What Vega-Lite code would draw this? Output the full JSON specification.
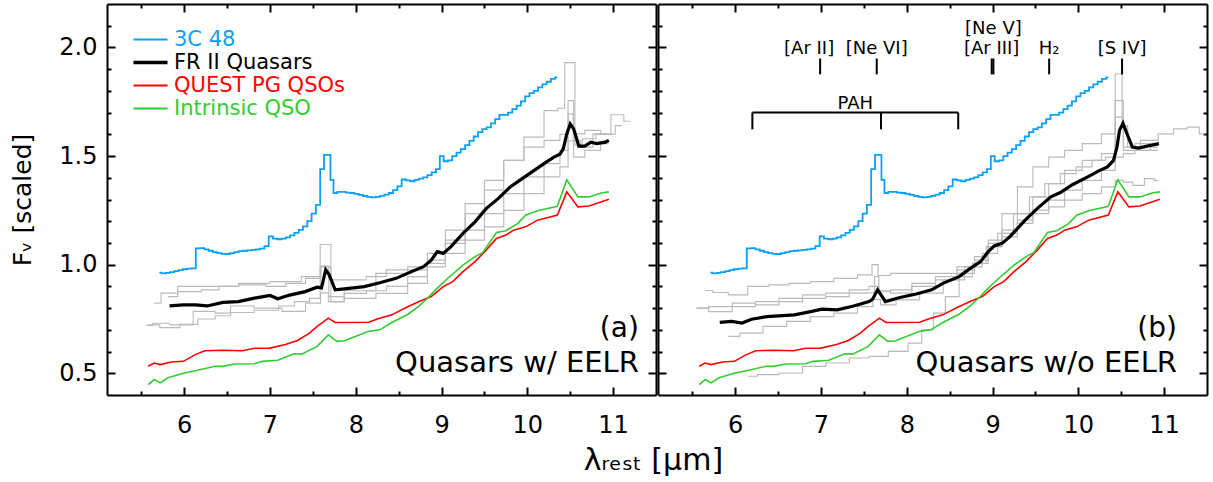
{
  "$schema": "https://vega.github.io/schema/vega-lite/v6.json",
  "background": "white",
  "padding": {"left": 10, "top": 3, "right": 3, "bottom": 4},
  "spacing": 0,
  "config": {
    "view": {"stroke": null},
    "axis": {"domainColor": "#000", "domainWidth": 2, "tickColor": "#000", "tickWidth": 2, "grid": false,
      "labelFont": "DejaVu Sans", "labelFontSize": 24, "labelColor": "#000", "titleFont": "DejaVu Sans",
      "titleFontWeight": "normal", "titleColor": "#000", "labelOverlap": false, "labelFlush": false, "labelBound": false},
    "text": {"font": "DejaVu Sans", "color": "#000"}
  },
  "title": {"text": "λᵣₑₛₜ [μm]", "orient": "bottom", "anchor": "middle", "fontSize": 30, "fontWeight": "normal", "font": "DejaVu Sans", "color": "#000", "offset": 5, "dx": 44},
  "resolve": {"scale": {"color": "shared"}},
  "datasets": {
    "gray": [
      {"panel":"a","id":"a1","x":5.58,"y":0.723},{"panel":"a","id":"a1","x":5.85,"y":0.71},{"panel":"a","id":"a1","x":6.05,"y":0.725},{"panel":"a","id":"a1","x":6.27,"y":0.75},{"panel":"a","id":"a1","x":6.45,"y":0.765},{"panel":"a","id":"a1","x":6.63,"y":0.78},{"panel":"a","id":"a1","x":7.0,"y":0.79},{"panel":"a","id":"a1","x":7.2,"y":0.81},{"panel":"a","id":"a1","x":7.37,"y":0.83},{"panel":"a","id":"a1","x":7.55,"y":0.845},{"panel":"a","id":"a1","x":7.62,"y":1.093},{"panel":"a","id":"a1","x":7.69,"y":1.093},{"panel":"a","id":"a1","x":7.73,"y":0.83},{"panel":"a","id":"a1","x":8.0,"y":0.868},{"panel":"a","id":"a1","x":8.25,"y":0.88},{"panel":"a","id":"a1","x":8.47,"y":0.9},{"panel":"a","id":"a1","x":8.74,"y":0.945},{"panel":"a","id":"a1","x":8.93,"y":1.006},{"panel":"a","id":"a1","x":9.16,"y":1.113},{"panel":"a","id":"a1","x":9.39,"y":1.235},{"panel":"a","id":"a1","x":9.61,"y":1.343},{"panel":"a","id":"a1","x":9.84,"y":1.48},{"panel":"a","id":"a1","x":10.08,"y":1.587},{"panel":"a","id":"a1","x":10.31,"y":1.709},{"panel":"a","id":"a1","x":10.4,"y":1.72},{"panel":"a","id":"a1","x":10.47,"y":1.93},{"panel":"a","id":"a1","x":10.53,"y":1.93},{"panel":"a","id":"a1","x":10.58,"y":1.55},{"panel":"a","id":"a1","x":10.7,"y":1.58},{"panel":"a","id":"a1","x":10.9,"y":1.6},{"panel":"a","id":"a1","x":11.05,"y":1.69},{"panel":"a","id":"a1","x":11.2,"y":1.66},
      {"panel":"a","id":"a2","x":5.65,"y":0.823},{"panel":"a","id":"a2","x":5.81,"y":0.869},{"panel":"a","id":"a2","x":6.04,"y":0.876},{"panel":"a","id":"a2","x":6.36,"y":0.884},{"panel":"a","id":"a2","x":6.45,"y":0.9},{"panel":"a","id":"a2","x":6.82,"y":0.907},{"panel":"a","id":"a2","x":7.09,"y":0.9},{"panel":"a","id":"a2","x":7.28,"y":0.914},{"panel":"a","id":"a2","x":7.55,"y":0.937},{"panel":"a","id":"a2","x":7.62,"y":0.99},{"panel":"a","id":"a2","x":7.69,"y":0.99},{"panel":"a","id":"a2","x":7.73,"y":0.93},{"panel":"a","id":"a2","x":8.0,"y":0.93},{"panel":"a","id":"a2","x":8.24,"y":0.945},{"panel":"a","id":"a2","x":8.47,"y":0.976},{"panel":"a","id":"a2","x":8.74,"y":0.99},{"panel":"a","id":"a2","x":8.93,"y":1.021},{"panel":"a","id":"a2","x":9.16,"y":1.098},{"panel":"a","id":"a2","x":9.39,"y":1.159},{"panel":"a","id":"a2","x":9.61,"y":1.235},{"panel":"a","id":"a2","x":9.84,"y":1.327},{"panel":"a","id":"a2","x":10.08,"y":1.404},{"panel":"a","id":"a2","x":10.31,"y":1.465},{"panel":"a","id":"a2","x":10.45,"y":1.526},{"panel":"a","id":"a2","x":10.5,"y":1.694},{"panel":"a","id":"a2","x":10.57,"y":1.572},{"panel":"a","id":"a2","x":10.67,"y":1.541},{"panel":"a","id":"a2","x":10.86,"y":1.602},{"panel":"a","id":"a2","x":11.0,"y":1.6},
      {"panel":"a","id":"a3","x":5.55,"y":0.72},{"panel":"a","id":"a3","x":5.72,"y":0.73},{"panel":"a","id":"a3","x":5.94,"y":0.723},{"panel":"a","id":"a3","x":6.27,"y":0.785},{"panel":"a","id":"a3","x":6.45,"y":0.777},{"panel":"a","id":"a3","x":6.63,"y":0.81},{"panel":"a","id":"a3","x":7.0,"y":0.8},{"panel":"a","id":"a3","x":7.28,"y":0.785},{"panel":"a","id":"a3","x":7.55,"y":0.823},{"panel":"a","id":"a3","x":7.63,"y":0.87},{"panel":"a","id":"a3","x":7.73,"y":0.83},{"panel":"a","id":"a3","x":8.0,"y":0.845},{"panel":"a","id":"a3","x":8.47,"y":0.868},{"panel":"a","id":"a3","x":8.74,"y":0.914},{"panel":"a","id":"a3","x":8.93,"y":0.99},{"panel":"a","id":"a3","x":9.16,"y":1.052},{"panel":"a","id":"a3","x":9.39,"y":1.113},{"panel":"a","id":"a3","x":9.61,"y":1.174},{"panel":"a","id":"a3","x":9.84,"y":1.25},{"panel":"a","id":"a3","x":10.08,"y":1.327},{"panel":"a","id":"a3","x":10.31,"y":1.404},{"panel":"a","id":"a3","x":10.45,"y":1.45},{"panel":"a","id":"a3","x":10.5,"y":1.57},{"panel":"a","id":"a3","x":10.58,"y":1.495},{"panel":"a","id":"a3","x":10.76,"y":1.526},{"panel":"a","id":"a3","x":10.95,"y":1.557},
      {"panel":"a","id":"a4","x":5.81,"y":0.853},{"panel":"a","id":"a4","x":6.04,"y":0.9},{"panel":"a","id":"a4","x":6.45,"y":0.9},{"panel":"a","id":"a4","x":6.82,"y":0.914},{"panel":"a","id":"a4","x":7.18,"y":0.922},{"panel":"a","id":"a4","x":7.55,"y":0.945},{"panel":"a","id":"a4","x":7.64,"y":0.994},{"panel":"a","id":"a4","x":7.73,"y":0.853},{"panel":"a","id":"a4","x":8.0,"y":0.88},{"panel":"a","id":"a4","x":8.47,"y":0.96},{"panel":"a","id":"a4","x":8.74,"y":0.976},{"panel":"a","id":"a4","x":8.93,"y":1.052},{"panel":"a","id":"a4","x":9.16,"y":1.159},{"panel":"a","id":"a4","x":9.39,"y":1.281},{"panel":"a","id":"a4","x":9.61,"y":1.388},{"panel":"a","id":"a4","x":9.84,"y":1.48},{"panel":"a","id":"a4","x":10.08,"y":1.541},{"panel":"a","id":"a4","x":10.31,"y":1.572},{"panel":"a","id":"a4","x":10.45,"y":1.6},{"panel":"a","id":"a4","x":10.5,"y":1.755},{"panel":"a","id":"a4","x":10.58,"y":1.602},{"panel":"a","id":"a4","x":10.76,"y":1.618},{"panel":"a","id":"a4","x":10.95,"y":1.6},{"panel":"a","id":"a4","x":11.1,"y":1.64},
      {"panel":"b","id":"b1","x":5.65,"y":0.881},{"panel":"b","id":"b1","x":5.83,"y":0.872},{"panel":"b","id":"b1","x":6.01,"y":0.861},{"panel":"b","id":"b1","x":6.28,"y":0.9},{"panel":"b","id":"b1","x":6.51,"y":0.907},{"panel":"b","id":"b1","x":6.74,"y":0.914},{"panel":"b","id":"b1","x":7.01,"y":0.922},{"panel":"b","id":"b1","x":7.29,"y":0.937},{"panel":"b","id":"b1","x":7.56,"y":0.953},{"panel":"b","id":"b1","x":7.63,"y":1.0},{"panel":"b","id":"b1","x":7.7,"y":0.95},{"panel":"b","id":"b1","x":7.92,"y":0.96},{"panel":"b","id":"b1","x":8.24,"y":0.96},{"panel":"b","id":"b1","x":8.47,"y":0.96},{"panel":"b","id":"b1","x":8.7,"y":0.976},{"panel":"b","id":"b1","x":8.88,"y":1.006},{"panel":"b","id":"b1","x":9.02,"y":1.098},{"panel":"b","id":"b1","x":9.2,"y":1.235},{"panel":"b","id":"b1","x":9.38,"y":1.358},{"panel":"b","id":"b1","x":9.56,"y":1.45},{"panel":"b","id":"b1","x":9.75,"y":1.495},{"panel":"b","id":"b1","x":9.93,"y":1.526},{"panel":"b","id":"b1","x":10.16,"y":1.557},{"panel":"b","id":"b1","x":10.38,"y":1.602},{"panel":"b","id":"b1","x":10.48,"y":1.878},{"panel":"b","id":"b1","x":10.54,"y":1.64},{"panel":"b","id":"b1","x":10.61,"y":1.541},{"panel":"b","id":"b1","x":10.84,"y":1.572},{"panel":"b","id":"b1","x":11.02,"y":1.602},{"panel":"b","id":"b1","x":11.2,"y":1.625},{"panel":"b","id":"b1","x":11.34,"y":1.633},{"panel":"b","id":"b1","x":11.48,"y":1.602},
      {"panel":"b","id":"b2","x":5.55,"y":0.8},{"panel":"b","id":"b2","x":5.83,"y":0.784},{"panel":"b","id":"b2","x":6.1,"y":0.807},{"panel":"b","id":"b2","x":6.37,"y":0.83},{"panel":"b","id":"b2","x":6.65,"y":0.83},{"panel":"b","id":"b2","x":6.92,"y":0.845},{"panel":"b","id":"b2","x":7.19,"y":0.853},{"panel":"b","id":"b2","x":7.47,"y":0.869},{"panel":"b","id":"b2","x":7.6,"y":0.87},{"panel":"b","id":"b2","x":7.65,"y":0.945},{"panel":"b","id":"b2","x":7.7,"y":0.88},{"panel":"b","id":"b2","x":7.92,"y":0.869},{"panel":"b","id":"b2","x":8.2,"y":0.9},{"panel":"b","id":"b2","x":8.47,"y":0.93},{"panel":"b","id":"b2","x":8.7,"y":0.96},{"panel":"b","id":"b2","x":8.88,"y":1.021},{"panel":"b","id":"b2","x":9.02,"y":1.113},{"panel":"b","id":"b2","x":9.2,"y":1.159},{"panel":"b","id":"b2","x":9.38,"y":1.235},{"panel":"b","id":"b2","x":9.56,"y":1.312},{"panel":"b","id":"b2","x":9.75,"y":1.373},{"panel":"b","id":"b2","x":9.93,"y":1.434},{"panel":"b","id":"b2","x":10.16,"y":1.48},{"panel":"b","id":"b2","x":10.38,"y":1.511},{"panel":"b","id":"b2","x":10.48,"y":1.755},{"panel":"b","id":"b2","x":10.57,"y":1.541},{"panel":"b","id":"b2","x":10.75,"y":1.557},{"panel":"b","id":"b2","x":10.93,"y":1.55},
      {"panel":"b","id":"b3","x":5.55,"y":0.8},{"panel":"b","id":"b3","x":5.83,"y":0.807},{"panel":"b","id":"b3","x":6.1,"y":0.823},{"panel":"b","id":"b3","x":6.37,"y":0.815},{"panel":"b","id":"b3","x":6.65,"y":0.845},{"panel":"b","id":"b3","x":6.92,"y":0.861},{"panel":"b","id":"b3","x":7.19,"y":0.869},{"panel":"b","id":"b3","x":7.47,"y":0.884},{"panel":"b","id":"b3","x":7.65,"y":0.9},{"panel":"b","id":"b3","x":7.7,"y":0.875},{"panel":"b","id":"b3","x":7.92,"y":0.884},{"panel":"b","id":"b3","x":8.2,"y":0.914},{"panel":"b","id":"b3","x":8.47,"y":0.945},{"panel":"b","id":"b3","x":8.7,"y":0.99},{"panel":"b","id":"b3","x":8.88,"y":1.037},{"panel":"b","id":"b3","x":9.02,"y":1.083},{"panel":"b","id":"b3","x":9.2,"y":1.128},{"panel":"b","id":"b3","x":9.38,"y":1.19},{"panel":"b","id":"b3","x":9.56,"y":1.251},{"panel":"b","id":"b3","x":9.75,"y":1.297},{"panel":"b","id":"b3","x":9.93,"y":1.343},{"panel":"b","id":"b3","x":10.16,"y":1.388},{"panel":"b","id":"b3","x":10.38,"y":1.434},{"panel":"b","id":"b3","x":10.48,"y":1.495},{"panel":"b","id":"b3","x":10.57,"y":1.511},{"panel":"b","id":"b3","x":10.75,"y":1.526},{"panel":"b","id":"b3","x":10.93,"y":1.526},
      {"panel":"b","id":"b4","x":6.15,"y":0.486},{"panel":"b","id":"b4","x":6.37,"y":0.494},{"panel":"b","id":"b4","x":6.65,"y":0.501},{"panel":"b","id":"b4","x":6.92,"y":0.532},{"panel":"b","id":"b4","x":7.19,"y":0.547},{"panel":"b","id":"b4","x":7.47,"y":0.57},{"panel":"b","id":"b4","x":7.65,"y":0.578},{"panel":"b","id":"b4","x":7.92,"y":0.601},{"panel":"b","id":"b4","x":8.11,"y":0.639},{"panel":"b","id":"b4","x":8.24,"y":0.7},{"panel":"b","id":"b4","x":8.38,"y":0.777},{"panel":"b","id":"b4","x":8.52,"y":0.853},{"panel":"b","id":"b4","x":8.7,"y":0.945},{"panel":"b","id":"b4","x":8.83,"y":1.006},{"panel":"b","id":"b4","x":9.02,"y":1.083},{"panel":"b","id":"b4","x":9.2,"y":1.144},{"panel":"b","id":"b4","x":9.38,"y":1.205},{"panel":"b","id":"b4","x":9.56,"y":1.235},{"panel":"b","id":"b4","x":9.75,"y":1.266},{"panel":"b","id":"b4","x":9.93,"y":1.297},{"panel":"b","id":"b4","x":10.16,"y":1.327},{"panel":"b","id":"b4","x":10.38,"y":1.358},{"panel":"b","id":"b4","x":10.48,"y":1.388},{"panel":"b","id":"b4","x":10.57,"y":1.38},{"panel":"b","id":"b4","x":10.7,"y":1.365},{"panel":"b","id":"b4","x":10.84,"y":1.396},{"panel":"b","id":"b4","x":10.93,"y":1.388},
      {"panel":"b","id":"b5","x":5.92,"y":0.67},{"panel":"b","id":"b5","x":6.19,"y":0.685},{"panel":"b","id":"b5","x":6.46,"y":0.716},{"panel":"b","id":"b5","x":6.74,"y":0.739},{"panel":"b","id":"b5","x":7.01,"y":0.761},{"panel":"b","id":"b5","x":7.29,"y":0.777},{"panel":"b","id":"b5","x":7.56,"y":0.807},{"panel":"b","id":"b5","x":7.65,"y":0.84},{"panel":"b","id":"b5","x":7.74,"y":0.815},{"panel":"b","id":"b5","x":8.01,"y":0.838},{"panel":"b","id":"b5","x":8.29,"y":0.869},{"panel":"b","id":"b5","x":8.56,"y":0.93},{"panel":"b","id":"b5","x":8.79,"y":0.99},{"panel":"b","id":"b5","x":8.97,"y":1.052},{"panel":"b","id":"b5","x":9.15,"y":1.144},{"panel":"b","id":"b5","x":9.34,"y":1.235},{"panel":"b","id":"b5","x":9.52,"y":1.312},{"panel":"b","id":"b5","x":9.7,"y":1.373},{"panel":"b","id":"b5","x":9.88,"y":1.419},{"panel":"b","id":"b5","x":10.07,"y":1.45},{"panel":"b","id":"b5","x":10.25,"y":1.48},{"panel":"b","id":"b5","x":10.38,"y":1.495},{"panel":"b","id":"b5","x":10.48,"y":1.679},{"panel":"b","id":"b5","x":10.57,"y":1.526},{"panel":"b","id":"b5","x":10.75,"y":1.526},{"panel":"b","id":"b5","x":10.93,"y":1.541}
    ],
    "spectra": [
      {"series":"3C 48","panel":"both","x":5.71,"y":0.963},{"series":"3C 48","panel":"both","x":5.76,"y":0.96},{"series":"3C 48","panel":"both","x":5.81,"y":0.962},{"series":"3C 48","panel":"both","x":5.86,"y":0.966},{"series":"3C 48","panel":"both","x":5.91,"y":0.97},{"series":"3C 48","panel":"both","x":5.96,"y":0.975},{"series":"3C 48","panel":"both","x":6.01,"y":0.979},{"series":"3C 48","panel":"both","x":6.06,"y":0.982},{"series":"3C 48","panel":"both","x":6.11,"y":0.983},{"series":"3C 48","panel":"both","x":6.16,"y":1.075},{"series":"3C 48","panel":"both","x":6.21,"y":1.076},{"series":"3C 48","panel":"both","x":6.26,"y":1.07},{"series":"3C 48","panel":"both","x":6.31,"y":1.064},{"series":"3C 48","panel":"both","x":6.36,"y":1.058},{"series":"3C 48","panel":"both","x":6.41,"y":1.053},{"series":"3C 48","panel":"both","x":6.46,"y":1.05},{"series":"3C 48","panel":"both","x":6.51,"y":1.049},{"series":"3C 48","panel":"both","x":6.56,"y":1.053},{"series":"3C 48","panel":"both","x":6.61,"y":1.058},{"series":"3C 48","panel":"both","x":6.66,"y":1.062},{"series":"3C 48","panel":"both","x":6.71,"y":1.064},{"series":"3C 48","panel":"both","x":6.76,"y":1.066},{"series":"3C 48","panel":"both","x":6.81,"y":1.068},{"series":"3C 48","panel":"both","x":6.86,"y":1.07},{"series":"3C 48","panel":"both","x":6.91,"y":1.074},{"series":"3C 48","panel":"both","x":6.96,"y":1.085},{"series":"3C 48","panel":"both","x":7.01,"y":1.13},{"series":"3C 48","panel":"both","x":7.06,"y":1.12},{"series":"3C 48","panel":"both","x":7.11,"y":1.117},{"series":"3C 48","panel":"both","x":7.16,"y":1.12},{"series":"3C 48","panel":"both","x":7.21,"y":1.126},{"series":"3C 48","panel":"both","x":7.26,"y":1.135},{"series":"3C 48","panel":"both","x":7.31,"y":1.146},{"series":"3C 48","panel":"both","x":7.36,"y":1.16},{"series":"3C 48","panel":"both","x":7.41,"y":1.176},{"series":"3C 48","panel":"both","x":7.46,"y":1.2},{"series":"3C 48","panel":"both","x":7.51,"y":1.235},{"series":"3C 48","panel":"both","x":7.56,"y":1.275},{"series":"3C 48","panel":"both","x":7.61,"y":1.44},{"series":"3C 48","panel":"both","x":7.65,"y":1.505},{"series":"3C 48","panel":"both","x":7.69,"y":1.505},{"series":"3C 48","panel":"both","x":7.72,"y":1.39},{"series":"3C 48","panel":"both","x":7.76,"y":1.33},{"series":"3C 48","panel":"both","x":7.81,"y":1.335},{"series":"3C 48","panel":"both","x":7.86,"y":1.335},{"series":"3C 48","panel":"both","x":7.91,"y":1.332},{"series":"3C 48","panel":"both","x":7.96,"y":1.33},{"series":"3C 48","panel":"both","x":8.01,"y":1.326},{"series":"3C 48","panel":"both","x":8.06,"y":1.321},{"series":"3C 48","panel":"both","x":8.11,"y":1.316},{"series":"3C 48","panel":"both","x":8.16,"y":1.312},{"series":"3C 48","panel":"both","x":8.21,"y":1.31},{"series":"3C 48","panel":"both","x":8.26,"y":1.312},{"series":"3C 48","panel":"both","x":8.31,"y":1.317},{"series":"3C 48","panel":"both","x":8.36,"y":1.322},{"series":"3C 48","panel":"both","x":8.41,"y":1.33},{"series":"3C 48","panel":"both","x":8.46,"y":1.343},{"series":"3C 48","panel":"both","x":8.51,"y":1.36},{"series":"3C 48","panel":"both","x":8.56,"y":1.392},{"series":"3C 48","panel":"both","x":8.61,"y":1.388},{"series":"3C 48","panel":"both","x":8.66,"y":1.384},{"series":"3C 48","panel":"both","x":8.71,"y":1.39},{"series":"3C 48","panel":"both","x":8.76,"y":1.396},{"series":"3C 48","panel":"both","x":8.81,"y":1.402},{"series":"3C 48","panel":"both","x":8.86,"y":1.412},{"series":"3C 48","panel":"both","x":8.91,"y":1.425},{"series":"3C 48","panel":"both","x":8.96,"y":1.44},{"series":"3C 48","panel":"both","x":9.0,"y":1.5},{"series":"3C 48","panel":"both","x":9.05,"y":1.476},{"series":"3C 48","panel":"both","x":9.1,"y":1.48},{"series":"3C 48","panel":"both","x":9.15,"y":1.5},{"series":"3C 48","panel":"both","x":9.2,"y":1.516},{"series":"3C 48","panel":"both","x":9.25,"y":1.532},{"series":"3C 48","panel":"both","x":9.3,"y":1.55},{"series":"3C 48","panel":"both","x":9.35,"y":1.57},{"series":"3C 48","panel":"both","x":9.4,"y":1.59},{"series":"3C 48","panel":"both","x":9.45,"y":1.61},{"series":"3C 48","panel":"both","x":9.5,"y":1.624},{"series":"3C 48","panel":"both","x":9.55,"y":1.632},{"series":"3C 48","panel":"both","x":9.6,"y":1.65},{"series":"3C 48","panel":"both","x":9.65,"y":1.67},{"series":"3C 48","panel":"both","x":9.7,"y":1.69},{"series":"3C 48","panel":"both","x":9.75,"y":1.69},{"series":"3C 48","panel":"both","x":9.8,"y":1.7},{"series":"3C 48","panel":"both","x":9.85,"y":1.716},{"series":"3C 48","panel":"both","x":9.9,"y":1.732},{"series":"3C 48","panel":"both","x":9.95,"y":1.752},{"series":"3C 48","panel":"both","x":10.0,"y":1.775},{"series":"3C 48","panel":"both","x":10.05,"y":1.79},{"series":"3C 48","panel":"both","x":10.1,"y":1.8},{"series":"3C 48","panel":"both","x":10.15,"y":1.816},{"series":"3C 48","panel":"both","x":10.2,"y":1.83},{"series":"3C 48","panel":"both","x":10.25,"y":1.842},{"series":"3C 48","panel":"both","x":10.3,"y":1.855},{"series":"3C 48","panel":"both","x":10.35,"y":1.862},
      {"series":"QUEST PG QSOs","panel":"both","x":5.58,"y":0.532},{"series":"QUEST PG QSOs","panel":"both","x":5.65,"y":0.547},{"series":"QUEST PG QSOs","panel":"both","x":5.72,"y":0.54},{"series":"QUEST PG QSOs","panel":"both","x":5.85,"y":0.552},{"series":"QUEST PG QSOs","panel":"both","x":5.99,"y":0.555},{"series":"QUEST PG QSOs","panel":"both","x":6.13,"y":0.586},{"series":"QUEST PG QSOs","panel":"both","x":6.24,"y":0.604},{"series":"QUEST PG QSOs","panel":"both","x":6.45,"y":0.606},{"series":"QUEST PG QSOs","panel":"both","x":6.68,"y":0.604},{"series":"QUEST PG QSOs","panel":"both","x":6.82,"y":0.615},{"series":"QUEST PG QSOs","panel":"both","x":7.0,"y":0.616},{"series":"QUEST PG QSOs","panel":"both","x":7.18,"y":0.632},{"series":"QUEST PG QSOs","panel":"both","x":7.32,"y":0.651},{"series":"QUEST PG QSOs","panel":"both","x":7.46,"y":0.685},{"series":"QUEST PG QSOs","panel":"both","x":7.55,"y":0.716},{"series":"QUEST PG QSOs","panel":"both","x":7.68,"y":0.754},{"series":"QUEST PG QSOs","panel":"both","x":7.76,"y":0.734},{"series":"QUEST PG QSOs","panel":"both","x":7.87,"y":0.734},{"series":"QUEST PG QSOs","panel":"both","x":8.15,"y":0.735},{"series":"QUEST PG QSOs","panel":"both","x":8.26,"y":0.751},{"series":"QUEST PG QSOs","panel":"both","x":8.42,"y":0.769},{"series":"QUEST PG QSOs","panel":"both","x":8.61,"y":0.807},{"series":"QUEST PG QSOs","panel":"both","x":8.74,"y":0.83},{"series":"QUEST PG QSOs","panel":"both","x":8.88,"y":0.853},{"series":"QUEST PG QSOs","panel":"both","x":9.02,"y":0.899},{"series":"QUEST PG QSOs","panel":"both","x":9.13,"y":0.922},{"series":"QUEST PG QSOs","panel":"both","x":9.25,"y":0.968},{"series":"QUEST PG QSOs","panel":"both","x":9.39,"y":1.014},{"series":"QUEST PG QSOs","panel":"both","x":9.52,"y":1.067},{"series":"QUEST PG QSOs","panel":"both","x":9.64,"y":1.121},{"series":"QUEST PG QSOs","panel":"both","x":9.75,"y":1.136},{"series":"QUEST PG QSOs","panel":"both","x":9.84,"y":1.159},{"series":"QUEST PG QSOs","panel":"both","x":9.98,"y":1.174},{"series":"QUEST PG QSOs","panel":"both","x":10.12,"y":1.205},{"series":"QUEST PG QSOs","panel":"both","x":10.35,"y":1.228},{"series":"QUEST PG QSOs","panel":"both","x":10.46,"y":1.335},{"series":"QUEST PG QSOs","panel":"both","x":10.59,"y":1.266},{"series":"QUEST PG QSOs","panel":"both","x":10.72,"y":1.27},{"series":"QUEST PG QSOs","panel":"both","x":10.95,"y":1.301},
      {"series":"Intrinsic QSO","panel":"both","x":5.58,"y":0.448},{"series":"Intrinsic QSO","panel":"both","x":5.65,"y":0.471},{"series":"Intrinsic QSO","panel":"both","x":5.72,"y":0.456},{"series":"Intrinsic QSO","panel":"both","x":5.81,"y":0.479},{"series":"Intrinsic QSO","panel":"both","x":5.9,"y":0.49},{"series":"Intrinsic QSO","panel":"both","x":5.99,"y":0.5},{"series":"Intrinsic QSO","panel":"both","x":6.13,"y":0.512},{"series":"Intrinsic QSO","panel":"both","x":6.36,"y":0.532},{"series":"Intrinsic QSO","panel":"both","x":6.45,"y":0.532},{"series":"Intrinsic QSO","panel":"both","x":6.59,"y":0.543},{"series":"Intrinsic QSO","panel":"both","x":6.82,"y":0.544},{"series":"Intrinsic QSO","panel":"both","x":6.91,"y":0.555},{"series":"Intrinsic QSO","panel":"both","x":7.09,"y":0.56},{"series":"Intrinsic QSO","panel":"both","x":7.28,"y":0.59},{"series":"Intrinsic QSO","panel":"both","x":7.37,"y":0.588},{"series":"Intrinsic QSO","panel":"both","x":7.55,"y":0.624},{"series":"Intrinsic QSO","panel":"both","x":7.68,"y":0.677},{"series":"Intrinsic QSO","panel":"both","x":7.78,"y":0.647},{"series":"Intrinsic QSO","panel":"both","x":7.87,"y":0.65},{"series":"Intrinsic QSO","panel":"both","x":8.15,"y":0.693},{"series":"Intrinsic QSO","panel":"both","x":8.28,"y":0.7},{"series":"Intrinsic QSO","panel":"both","x":8.42,"y":0.734},{"series":"Intrinsic QSO","panel":"both","x":8.61,"y":0.772},{"series":"Intrinsic QSO","panel":"both","x":8.74,"y":0.81},{"series":"Intrinsic QSO","panel":"both","x":8.83,"y":0.843},{"series":"Intrinsic QSO","panel":"both","x":8.93,"y":0.884},{"series":"Intrinsic QSO","panel":"both","x":9.06,"y":0.933},{"series":"Intrinsic QSO","panel":"both","x":9.25,"y":0.998},{"series":"Intrinsic QSO","panel":"both","x":9.39,"y":1.037},{"series":"Intrinsic QSO","panel":"both","x":9.48,"y":1.055},{"series":"Intrinsic QSO","panel":"both","x":9.64,"y":1.148},{"series":"Intrinsic QSO","panel":"both","x":9.75,"y":1.156},{"series":"Intrinsic QSO","panel":"both","x":9.89,"y":1.19},{"series":"Intrinsic QSO","panel":"both","x":9.98,"y":1.228},{"series":"Intrinsic QSO","panel":"both","x":10.12,"y":1.248},{"series":"Intrinsic QSO","panel":"both","x":10.35,"y":1.269},{"series":"Intrinsic QSO","panel":"both","x":10.46,"y":1.391},{"series":"Intrinsic QSO","panel":"both","x":10.59,"y":1.312},{"series":"Intrinsic QSO","panel":"both","x":10.72,"y":1.312},{"series":"Intrinsic QSO","panel":"both","x":10.86,"y":1.33},{"series":"Intrinsic QSO","panel":"both","x":10.95,"y":1.335},
      {"series":"FR II Quasars","panel":"a","x":5.83,"y":0.81},{"series":"FR II Quasars","panel":"a","x":5.99,"y":0.815},{"series":"FR II Quasars","panel":"a","x":6.13,"y":0.815},{"series":"FR II Quasars","panel":"a","x":6.27,"y":0.81},{"series":"FR II Quasars","panel":"a","x":6.45,"y":0.826},{"series":"FR II Quasars","panel":"a","x":6.63,"y":0.83},{"series":"FR II Quasars","panel":"a","x":6.82,"y":0.846},{"series":"FR II Quasars","panel":"a","x":7.0,"y":0.858},{"series":"FR II Quasars","panel":"a","x":7.09,"y":0.843},{"series":"FR II Quasars","panel":"a","x":7.23,"y":0.86},{"series":"FR II Quasars","panel":"a","x":7.41,"y":0.876},{"series":"FR II Quasars","panel":"a","x":7.55,"y":0.896},{"series":"FR II Quasars","panel":"a","x":7.6,"y":0.893},{"series":"FR II Quasars","panel":"a","x":7.65,"y":0.976},{"series":"FR II Quasars","panel":"a","x":7.69,"y":0.953},{"series":"FR II Quasars","panel":"a","x":7.76,"y":0.884},{"series":"FR II Quasars","panel":"a","x":7.92,"y":0.891},{"series":"FR II Quasars","panel":"a","x":8.1,"y":0.899},{"series":"FR II Quasars","panel":"a","x":8.28,"y":0.917},{"series":"FR II Quasars","panel":"a","x":8.47,"y":0.937},{"series":"FR II Quasars","panel":"a","x":8.65,"y":0.968},{"series":"FR II Quasars","panel":"a","x":8.79,"y":0.991},{"series":"FR II Quasars","panel":"a","x":8.88,"y":1.021},{"series":"FR II Quasars","panel":"a","x":8.95,"y":1.06},{"series":"FR II Quasars","panel":"a","x":9.02,"y":1.052},{"series":"FR II Quasars","panel":"a","x":9.11,"y":1.083},{"series":"FR II Quasars","panel":"a","x":9.25,"y":1.144},{"series":"FR II Quasars","panel":"a","x":9.39,"y":1.197},{"series":"FR II Quasars","panel":"a","x":9.52,"y":1.258},{"series":"FR II Quasars","panel":"a","x":9.66,"y":1.304},{"series":"FR II Quasars","panel":"a","x":9.8,"y":1.358},{"series":"FR II Quasars","panel":"a","x":9.94,"y":1.396},{"series":"FR II Quasars","panel":"a","x":10.08,"y":1.434},{"series":"FR II Quasars","panel":"a","x":10.22,"y":1.472},{"series":"FR II Quasars","panel":"a","x":10.31,"y":1.495},{"series":"FR II Quasars","panel":"a","x":10.38,"y":1.508},{"series":"FR II Quasars","panel":"a","x":10.42,"y":1.534},{"series":"FR II Quasars","panel":"a","x":10.46,"y":1.602},{"series":"FR II Quasars","panel":"a","x":10.5,"y":1.648},{"series":"FR II Quasars","panel":"a","x":10.54,"y":1.625},{"series":"FR II Quasars","panel":"a","x":10.6,"y":1.546},{"series":"FR II Quasars","panel":"a","x":10.67,"y":1.546},{"series":"FR II Quasars","panel":"a","x":10.74,"y":1.564},{"series":"FR II Quasars","panel":"a","x":10.81,"y":1.557},{"series":"FR II Quasars","panel":"a","x":10.91,"y":1.564},{"series":"FR II Quasars","panel":"a","x":10.95,"y":1.572},
      {"series":"FR II Quasars","panel":"b","x":5.82,"y":0.734},{"series":"FR II Quasars","panel":"b","x":5.96,"y":0.739},{"series":"FR II Quasars","panel":"b","x":6.08,"y":0.731},{"series":"FR II Quasars","panel":"b","x":6.19,"y":0.749},{"series":"FR II Quasars","panel":"b","x":6.37,"y":0.761},{"series":"FR II Quasars","panel":"b","x":6.69,"y":0.769},{"series":"FR II Quasars","panel":"b","x":6.88,"y":0.784},{"series":"FR II Quasars","panel":"b","x":7.01,"y":0.795},{"series":"FR II Quasars","panel":"b","x":7.19,"y":0.792},{"series":"FR II Quasars","panel":"b","x":7.38,"y":0.81},{"series":"FR II Quasars","panel":"b","x":7.56,"y":0.83},{"series":"FR II Quasars","panel":"b","x":7.6,"y":0.84},{"series":"FR II Quasars","panel":"b","x":7.66,"y":0.884},{"series":"FR II Quasars","panel":"b","x":7.7,"y":0.861},{"series":"FR II Quasars","panel":"b","x":7.75,"y":0.83},{"series":"FR II Quasars","panel":"b","x":7.92,"y":0.849},{"series":"FR II Quasars","panel":"b","x":8.11,"y":0.865},{"series":"FR II Quasars","panel":"b","x":8.29,"y":0.884},{"series":"FR II Quasars","panel":"b","x":8.42,"y":0.914},{"series":"FR II Quasars","panel":"b","x":8.61,"y":0.945},{"series":"FR II Quasars","panel":"b","x":8.74,"y":0.983},{"series":"FR II Quasars","panel":"b","x":8.86,"y":1.014},{"series":"FR II Quasars","panel":"b","x":8.95,"y":1.06},{"series":"FR II Quasars","panel":"b","x":9.02,"y":1.086},{"series":"FR II Quasars","panel":"b","x":9.11,"y":1.098},{"series":"FR II Quasars","panel":"b","x":9.2,"y":1.128},{"series":"FR II Quasars","panel":"b","x":9.38,"y":1.205},{"series":"FR II Quasars","panel":"b","x":9.52,"y":1.258},{"series":"FR II Quasars","panel":"b","x":9.68,"y":1.312},{"series":"FR II Quasars","panel":"b","x":9.79,"y":1.332},{"series":"FR II Quasars","panel":"b","x":9.93,"y":1.368},{"series":"FR II Quasars","panel":"b","x":10.11,"y":1.404},{"series":"FR II Quasars","panel":"b","x":10.25,"y":1.434},{"series":"FR II Quasars","panel":"b","x":10.34,"y":1.45},{"series":"FR II Quasars","panel":"b","x":10.41,"y":1.48},{"series":"FR II Quasars","panel":"b","x":10.45,"y":1.541},{"series":"FR II Quasars","panel":"b","x":10.48,"y":1.618},{"series":"FR II Quasars","panel":"b","x":10.52,"y":1.651},{"series":"FR II Quasars","panel":"b","x":10.56,"y":1.61},{"series":"FR II Quasars","panel":"b","x":10.63,"y":1.541},{"series":"FR II Quasars","panel":"b","x":10.7,"y":1.537},{"series":"FR II Quasars","panel":"b","x":10.84,"y":1.549},{"series":"FR II Quasars","panel":"b","x":10.94,"y":1.557}
    ],
    "features": [{"name":"[Ar II]","wl":6.99},{"name":"[Ne VI]","wl":7.65},{"name":"[Ar III]","wl":8.99},{"name":"[Ne V]","wl":9.01},{"name":"H₂","wl":9.66},{"name":"[S IV]","wl":10.51}],
    "pah": [{"band":"6.2","wl":6.2},{"band":"7.7","wl":7.7},{"band":"8.6","wl":8.6}]
  },
  "hconcat": [
    {
      "width": 549, "height": 391,
      "resolve": {"axis": {"x": "independent", "y": "independent"}},
      "layer": [
        {
          "data": {"name": "gray"},
          "transform": [{"filter": "datum.panel === 'a'"}],
          "mark": {"type": "line", "interpolate": "step", "color": "#bababa", "strokeWidth": 1.1},
          "encoding": {
            "x": {"field": "x", "type": "quantitative", "scale": {"domain": [5.1, 11.5], "nice": false, "zero": false},
              "axis": {"orient": "bottom", "values": [5.5,6,6.5,7,7.5,8,8.5,9,9.5,10,10.5,11], "tickSize": {"condition": {"test": "datum.value % 1 === 0", "value": -8}, "value": -4}, "labelExpr": "datum.value % 1 === 0 ? format(datum.value, 'd') : ''", "labelPadding": 26, "title": null}},
            "y": {"field": "y", "type": "quantitative", "scale": {"domain": [0.4, 2.2], "nice": false, "zero": false},
              "axis": {"orient": "left", "values": [0.5,0.6,0.7,0.8,0.9,1.0,1.1,1.2,1.3,1.4,1.5,1.6,1.7,1.8,1.9,2.0,2.1], "tickSize": {"condition": {"test": "abs(datum.value*2-round(datum.value*2)) < 0.001", "value": -8}, "value": -4}, "labelExpr": "abs(datum.value*2-round(datum.value*2)) < 0.001 ? format(datum.value, '.1f') : ''", "labelPadding": 18, "title": "Fᵥ [scaled]", "titleFontSize": 25, "titlePadding": 23}},
            "detail": {"field": "id", "type": "nominal"}
          }
        },
        {
          "data": {"name": "spectra"},
          "transform": [{"filter": "datum.series === '3C 48'"}],
          "mark": {"type": "line", "interpolate": "step", "strokeWidth": 1.8},
          "encoding": {
            "x": {"field": "x", "type": "quantitative", "axis": {"orient": "top", "values": [5.5,6,6.5,7,7.5,8,8.5,9,9.5,10,10.5,11], "tickSize": {"condition": {"test": "datum.value % 1 === 0", "value": -8}, "value": -4}, "labels": false, "title": null}},
            "y": {"field": "y", "type": "quantitative", "axis": {"orient": "right", "values": [0.5,0.6,0.7,0.8,0.9,1.0,1.1,1.2,1.3,1.4,1.5,1.6,1.7,1.8,1.9,2.0,2.1], "tickSize": {"condition": {"test": "abs(datum.value*2-round(datum.value*2)) < 0.001", "value": -8}, "value": -4}, "labels": false, "title": null}},
            "color": {"field": "series", "type": "nominal",
              "scale": {"domain": ["3C 48", "FR II Quasars", "QUEST PG QSOs", "Intrinsic QSO"], "range": ["#0aa0f5", "#000000", "#ff0000", "#33cc33"]},
              "legend": {"title": null, "orient": "none", "legendX": 33, "legendY": 25, "symbolType": "stroke", "symbolSize": 1156, "symbolStrokeWidth": 2, "labelFontSize": 21, "labelFont": "DejaVu Sans", "labelOffset": 13, "labelLimit": 0, "rowPadding": 1, "padding": 0,
                "encode": {"symbols": {"update": {"strokeWidth": {"signal": "datum.value === 'FR II Quasars' ? 3.5 : 2"}}}, "labels": {"update": {"fill": {"signal": "datum.value === '3C 48' ? '#0aa0f5' : datum.value === 'FR II Quasars' ? '#000000' : datum.value === 'QUEST PG QSOs' ? '#ff0000' : '#33cc33'"}}}}}}
          }
        },
        {
          "data": {"name": "spectra"},
          "transform": [{"filter": "datum.series === 'QUEST PG QSOs' || datum.series === 'Intrinsic QSO'"}],
          "mark": {"type": "line", "strokeWidth": 1.6},
          "encoding": {
            "x": {"field": "x", "type": "quantitative", "axis": null},
            "y": {"field": "y", "type": "quantitative", "axis": null},
            "color": {"field": "series", "type": "nominal"}
          }
        },
        {
          "data": {"name": "spectra"},
          "transform": [{"filter": "datum.series === 'FR II Quasars' && datum.panel === 'a'"}],
          "mark": {"type": "line", "strokeWidth": 3.2},
          "encoding": {
            "x": {"field": "x", "type": "quantitative", "axis": null},
            "y": {"field": "y", "type": "quantitative", "axis": null},
            "color": {"field": "series", "type": "nominal"}
          }
        },
        {
          "data": {"values": [{}]},
          "mark": {"type": "text", "align": "right", "baseline": "alphabetic", "fontSize": 28},
          "encoding": {"x": {"datum": 11.3, "type": "quantitative", "axis": null}, "y": {"datum": 0.665, "type": "quantitative", "axis": null}, "text": {"value": "(a)"}}
        },
        {
          "data": {"values": [{}]},
          "mark": {"type": "text", "align": "right", "baseline": "alphabetic", "fontSize": 29},
          "encoding": {"x": {"datum": 11.3, "type": "quantitative", "axis": null}, "y": {"datum": 0.506, "type": "quantitative", "axis": null}, "text": {"value": "Quasars w/ EELR"}}
        }
      ]
    },
    {
      "width": 549, "height": 391,
      "resolve": {"axis": {"x": "independent", "y": "independent"}},
      "layer": [
        {
          "data": {"name": "gray"},
          "transform": [{"filter": "datum.panel === 'b'"}],
          "mark": {"type": "line", "interpolate": "step", "color": "#bababa", "strokeWidth": 1.1},
          "encoding": {
            "x": {"field": "x", "type": "quantitative", "scale": {"domain": [5.1, 11.5], "nice": false, "zero": false},
              "axis": {"orient": "bottom", "values": [5.5,6,6.5,7,7.5,8,8.5,9,9.5,10,10.5,11], "tickSize": {"condition": {"test": "datum.value % 1 === 0", "value": -8}, "value": -4}, "labelExpr": "datum.value % 1 === 0 ? format(datum.value, 'd') : ''", "labelPadding": 26, "title": null}},
            "y": {"field": "y", "type": "quantitative", "scale": {"domain": [0.4, 2.2], "nice": false, "zero": false},
              "axis": {"orient": "left", "values": [0.5,0.6,0.7,0.8,0.9,1.0,1.1,1.2,1.3,1.4,1.5,1.6,1.7,1.8,1.9,2.0,2.1], "tickSize": {"condition": {"test": "abs(datum.value*2-round(datum.value*2)) < 0.001", "value": -8}, "value": -4}, "labels": false, "title": null}},
            "detail": {"field": "id", "type": "nominal"}
          }
        },
        {
          "data": {"name": "spectra"},
          "transform": [{"filter": "datum.series === '3C 48'"}],
          "mark": {"type": "line", "interpolate": "step", "strokeWidth": 1.8},
          "encoding": {
            "x": {"field": "x", "type": "quantitative", "axis": {"orient": "top", "values": [5.5,6,6.5,7,7.5,8,8.5,9,9.5,10,10.5,11], "tickSize": {"condition": {"test": "datum.value % 1 === 0", "value": -8}, "value": -4}, "labels": false, "title": null}},
            "y": {"field": "y", "type": "quantitative", "axis": {"orient": "right", "values": [0.5,0.6,0.7,0.8,0.9,1.0,1.1,1.2,1.3,1.4,1.5,1.6,1.7,1.8,1.9,2.0,2.1], "tickSize": {"condition": {"test": "abs(datum.value*2-round(datum.value*2)) < 0.001", "value": -8}, "value": -4}, "labels": false, "title": null}},
            "color": {"field": "series", "type": "nominal"}
          }
        },
        {
          "data": {"name": "spectra"},
          "transform": [{"filter": "datum.series === 'QUEST PG QSOs' || datum.series === 'Intrinsic QSO'"}],
          "mark": {"type": "line", "strokeWidth": 1.6},
          "encoding": {
            "x": {"field": "x", "type": "quantitative", "axis": null},
            "y": {"field": "y", "type": "quantitative", "axis": null},
            "color": {"field": "series", "type": "nominal"}
          }
        },
        {
          "data": {"name": "spectra"},
          "transform": [{"filter": "datum.series === 'FR II Quasars' && datum.panel === 'b'"}],
          "mark": {"type": "line", "strokeWidth": 3.2},
          "encoding": {
            "x": {"field": "x", "type": "quantitative", "axis": null},
            "y": {"field": "y", "type": "quantitative", "axis": null},
            "color": {"field": "series", "type": "nominal"}
          }
        },
        {
          "data": {"name": "features"},
          "mark": {"type": "rule", "color": "#000", "strokeWidth": 2},
          "encoding": {"x": {"field": "wl", "type": "quantitative", "axis": null}, "y": {"datum": 1.876, "type": "quantitative", "axis": null}, "y2": {"datum": 1.949}}
        },
        {
          "data": {"name": "features"},
          "transform": [{"filter": "datum.name !== '[Ne V]' && datum.name !== '[Ar II]'"}],
          "mark": {"type": "text", "align": "center", "baseline": "alphabetic", "fontSize": 18},
          "encoding": {"x": {"field": "wl", "type": "quantitative", "axis": null}, "y": {"datum": 1.97, "type": "quantitative", "axis": null}, "text": {"field": "name"}}
        },
        {
          "data": {"name": "features"},
          "transform": [{"filter": "datum.name === '[Ar II]'"}],
          "mark": {"type": "text", "align": "center", "baseline": "alphabetic", "fontSize": 18, "dx": -11},
          "encoding": {"x": {"field": "wl", "type": "quantitative", "axis": null}, "y": {"datum": 1.97, "type": "quantitative", "axis": null}, "text": {"field": "name"}}
        },
        {
          "data": {"name": "features"},
          "transform": [{"filter": "datum.name === '[Ne V]'"}],
          "mark": {"type": "text", "align": "center", "baseline": "alphabetic", "fontSize": 18},
          "encoding": {"x": {"field": "wl", "type": "quantitative", "axis": null}, "y": {"datum": 2.062, "type": "quantitative", "axis": null}, "text": {"field": "name"}}
        },
        {
          "data": {"name": "pah"},
          "mark": {"type": "rule", "color": "#000", "strokeWidth": 2},
          "encoding": {"x": {"field": "wl", "type": "quantitative", "axis": null}, "y": {"datum": 1.623, "type": "quantitative", "axis": null}, "y2": {"datum": 1.70}}
        },
        {
          "data": {"values": [{}]},
          "mark": {"type": "rule", "color": "#000", "strokeWidth": 2},
          "encoding": {"x": {"datum": 6.2, "type": "quantitative", "axis": null}, "x2": {"datum": 8.6}, "y": {"datum": 1.70, "type": "quantitative", "axis": null}}
        },
        {
          "data": {"values": [{}]},
          "mark": {"type": "text", "align": "center", "baseline": "alphabetic", "fontSize": 18},
          "encoding": {"x": {"datum": 7.4, "type": "quantitative", "axis": null}, "y": {"datum": 1.717, "type": "quantitative", "axis": null}, "text": {"value": "PAH"}}
        },
        {
          "data": {"values": [{}]},
          "mark": {"type": "text", "align": "right", "baseline": "alphabetic", "fontSize": 28},
          "encoding": {"x": {"datum": 11.15, "type": "quantitative", "axis": null}, "y": {"datum": 0.665, "type": "quantitative", "axis": null}, "text": {"value": "(b)"}}
        },
        {
          "data": {"values": [{}]},
          "mark": {"type": "text", "align": "right", "baseline": "alphabetic", "fontSize": 29},
          "encoding": {"x": {"datum": 11.15, "type": "quantitative", "axis": null}, "y": {"datum": 0.506, "type": "quantitative", "axis": null}, "text": {"value": "Quasars w/o EELR"}}
        }
      ]
    }
  ]
}
